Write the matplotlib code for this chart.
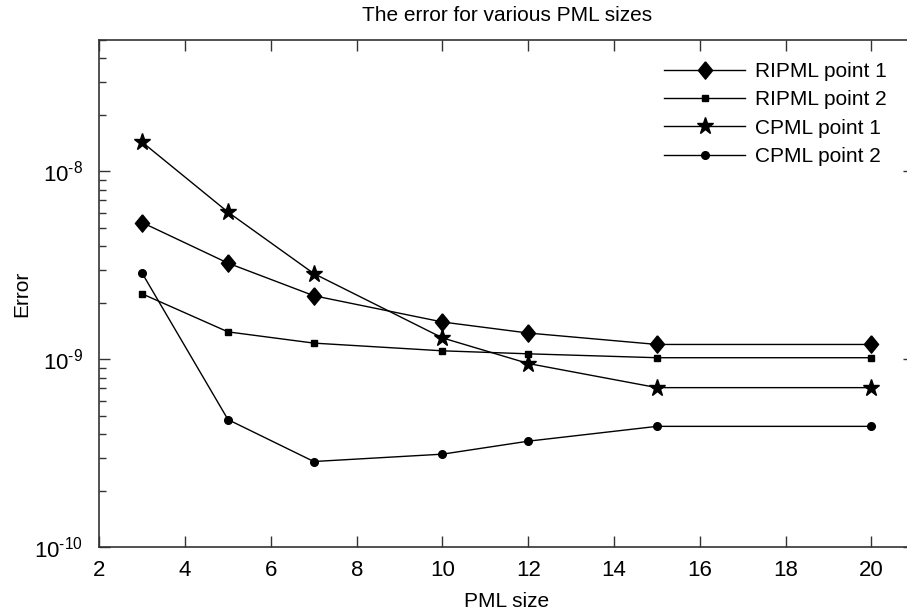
import matplotlib
matplotlib.use("Agg")
import matplotlib.pyplot as plt
import numpy as np
from matplotlib.ticker import FixedLocator, FuncFormatter, LogLocator, NullFormatter

plt.rcParams['font.family'] = ['Liberation Sans', 'DejaVu Sans']
plt.rcParams['mathtext.fontset'] = 'custom'
plt.rcParams['mathtext.rm'] = 'Liberation Sans'
plt.rcParams['mathtext.it'] = 'Liberation Sans'

pml_size = [3, 5, 7, 10, 12, 15, 20]
ripml_point1 = [5.34e-9, 3.25e-9, 2.18e-9, 1.58e-9, 1.38e-9, 1.20e-9, 1.20e-9]
ripml_point2 = [2.23e-9, 1.40e-9, 1.22e-9, 1.11e-9, 1.07e-9, 1.02e-9, 1.02e-9]
cpml_point1 = [1.43e-8, 6.07e-9, 2.86e-9, 1.30e-9, 9.5e-10, 7.07e-10, 7.07e-10]
cpml_point2 = [2.87e-9, 4.78e-10, 2.86e-10, 3.13e-10, 3.67e-10, 4.40e-10, 4.40e-10]
series_labels = ['RIPML point 1', 'RIPML point 2', 'CPML point 1', 'CPML point 2']
x_ticks = [2, 4, 6, 8, 10, 12, 14, 16, 18, 20]
y_ticks = [1e-10, 1e-9, 1e-8]

W, H = 907, 612
fig = plt.figure(figsize=(W / 100, H / 100), dpi=100)
# axes run slightly past the right edge of the canvas
ax = fig.add_axes([99.3 / W, 64.7 / H, (914.4 - 99.3) / W, (547.3 - 40) / H])

# upright diamond, a little taller than wide
diamond = [(0, 1), (0.82, 0), (0, -1), (-0.82, 0), (0, 1)]
styles = [
    dict(marker=diamond, markersize=12.5),
    dict(marker='s', markersize=5),
    dict(marker='*', markersize=12.5),
    dict(marker='o', markersize=5.5),
]
for ys, lab, st in zip([ripml_point1, ripml_point2, cpml_point1, cpml_point2], series_labels, styles):
    ax.plot(pml_size, ys, color='black', linewidth=1.0, markerfacecolor='black',
            markeredgecolor='black', label=lab, **st)

ax.set_yscale('log')
ax.set_xlim(2, 21)
ax.set_ylim(1e-10, 5e-8)
ax.set_xticks(x_ticks)


def pow10_label(v, pos):
    e = int(round(np.log10(v)))
    return r'$\mathregular{10^{\text{%d}}}$' % e


ax.yaxis.set_major_locator(FixedLocator(y_ticks))
ax.yaxis.set_major_formatter(FuncFormatter(pow10_label))
ax.yaxis.set_minor_locator(LogLocator(base=10, subs=range(2, 10), numticks=10))
ax.yaxis.set_minor_formatter(NullFormatter())

ax.tick_params(which='both', direction='in', top=True, right=True, color='#333333')
ax.tick_params(which='major', length=8, width=1.0, labelsize=16)
ax.tick_params(which='minor', length=5, width=1.0)
ax.tick_params(axis='x', which='major', pad=9)
ax.tick_params(axis='y', which='major', pad=12)
for sp in ax.spines.values():
    sp.set_color('#333333')
    sp.set_linewidth(1.2)

ax.set_xlabel('PML size', fontsize=15, labelpad=8)
ax.set_ylabel('Error', fontsize=15, labelpad=2)
ax.set_title('The error for various PML sizes', fontsize=15, pad=14)

leg = ax.legend(loc='upper left', bbox_to_anchor=(664 / W, 1 - 62 / H),
                bbox_transform=fig.transFigure, frameon=False, fontsize=15,
                handlelength=3.9, handletextpad=0.45, labelspacing=0.45,
                borderpad=0, borderaxespad=0, numpoints=1)

fig.savefig('out.png', dpi=100, facecolor='white')
